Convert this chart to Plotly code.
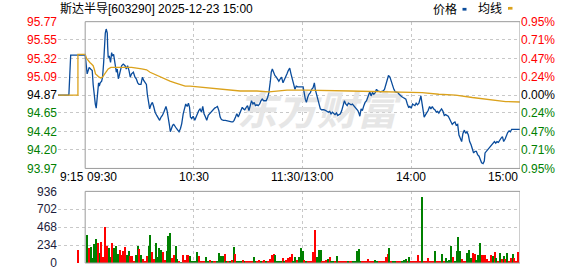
import plotly.graph_objects as go

# ---------------- data ----------------
title_text = "斯达半导[603290] 2025-12-23 15:00"
prev_close = 94.87
price_ticks = [93.97, 94.20, 94.42, 94.65, 94.87, 95.09, 95.32, 95.55, 95.77]
price_tick_text = ["93.97", "94.20", "94.42", "94.65", "94.87", "95.09", "95.32", "95.55", "95.77"]
pct_labels = ["0.95%", "0.71%", "0.47%", "0.24%", "0.00%", "0.24%", "0.47%", "0.71%", "0.95%"]
vol_ticks = [0, 234, 468, 702, 936]
time_label_pos = [-15, 0, 60, 120, 180, 240]
time_labels = ["9:15", "09:30", "10:30", "11:30/13:00", "14:00", "15:00"]
legend_names = ["价格", "均线"]
watermark = "东方财富"

# minutes from 09:30 (pre-market negative, afternoon continues after 120)
price_t = [-15, -9, -8, 0, 1.1, 2.2, 3.0, 3.9, 4.4, 5.0, 5.6, 6.1, 6.5, 6.8, 7.4, 7.8, 8.3, 9.1, 9.6,
           10.2, 10.5, 11.1, 11.6, 12.2, 12.4, 12.7, 13.3, 14.0, 14.6, 15.1, 15.7, 16.2, 16.6, 17.2,
           17.7, 18.3, 18.8, 19.4, 20.1, 21.0, 22.0, 22.7, 23.4, 24.2, 24.9, 25.6, 26.6, 27.5, 28.2,
           29.0, 29.7, 30.8, 31.6, 32.3, 33.0, 33.8, 34.3, 34.9, 35.6, 36.3, 37.1, 37.8, 38.6, 39.5,
           40.4, 41.1, 41.9, 42.6, 43.4, 44.1, 44.6, 45.2, 45.9, 46.5, 47.0, 47.8, 48.3, 48.9, 49.6,
           50.4, 51.1, 51.8, 52.6, 53.3, 54.1, 54.8, 55.5, 56.3, 57.0, 57.6, 58.1, 58.8, 59.6, 60.5,
           61.2, 62.0, 62.7, 63.4, 64.2, 64.9, 65.6, 66.4, 67.1, 67.9, 68.6, 69.3, 70.1, 70.8, 71.5,
           72.3, 73.0, 73.8, 74.5, 75.2, 76.3, 77.4, 78.6, 79.7, 80.8, 81.5, 82.2, 83.0, 83.7, 84.5,
           85.2, 85.9, 86.7, 87.4, 88.1, 88.9, 89.6, 90.4, 91.1, 91.8, 92.6, 93.3, 94.0, 94.8, 95.5,
           96.3, 97.0, 97.7, 98.5, 99.2, 99.9, 100.7, 101.4, 102.2, 102.7, 103.3, 104.0, 104.7, 105.5,
           106.2, 106.9, 107.7, 108.4, 109.2, 109.9, 110.6, 111.4, 112.1, 112.9, 113.6, 114.3, 115.1,
           115.8, 116.5, 117.3, 120.3, 121.5, 122.1, 122.8, 123.5, 124.3, 125.0, 125.8, 126.5, 127.0,
           127.6, 128.3, 129.1, 129.8, 130.5, 131.7, 132.8, 133.5, 134.2, 135.0, 135.7, 136.5, 137.2,
           137.9, 138.7, 139.4, 140.1, 140.9, 141.6, 142.4, 143.1, 143.8, 144.6, 145.3, 146.0, 146.8,
           147.5, 148.3, 149.0, 149.7, 150.5, 151.2, 151.6, 152.3, 153.0, 153.8, 154.5, 155.3, 156.0,
           156.7, 157.1, 157.8, 158.6, 159.3, 160.1, 160.8, 161.5, 163.0, 164.5, 165.2, 166.0, 166.7,
           167.4, 168.2, 168.9, 169.6, 170.4, 171.1, 171.9, 172.6, 173.3, 174.1, 174.8, 175.5, 176.3,
           177.0, 177.8, 178.5, 179.2, 180.0, 180.7, 181.4, 182.0, 182.7, 183.4, 184.2, 184.9, 185.3,
           186.0, 186.6, 187.1, 187.9, 188.6, 189.3, 190.1, 190.8, 191.6, 192.3, 193.0, 193.8, 194.5,
           195.2, 196.0, 196.7, 197.5, 198.2, 198.9, 199.7, 200.4, 201.1, 201.9, 202.6, 203.4, 204.1,
           204.8, 205.6, 206.3, 207.0, 207.8, 208.5, 209.3, 210.0, 210.7, 211.5, 212.2, 213.0, 213.7,
           214.4, 215.2, 215.9, 216.6, 217.4, 218.1, 218.8, 219.6, 220.3, 220.7, 221.4, 222.2, 222.9,
           223.6, 224.4, 225.1, 225.9, 226.6, 227.3, 228.1, 228.8, 229.5, 230.3, 231.0, 231.8, 232.5,
           233.2, 234.0, 234.7, 235.4, 237.7, 240]
price_v = [94.87, 94.87, 95.36, 95.36, 95.13, 95.21, 95.19, 95.17, 95.00, 94.84, 94.76, 94.71, 94.84,
           94.96, 95.02, 94.98, 95.02, 95.04, 95.09, 95.27, 95.43, 95.63, 95.68, 95.63, 95.47, 95.33,
           95.35, 95.27, 95.39, 95.35, 95.37, 95.31, 95.23, 95.15, 95.19, 95.07, 95.11, 95.19, 95.23,
           95.25, 95.23, 95.19, 95.23, 95.17, 95.09, 95.13, 95.15, 95.09, 95.07, 95.02, 95.00, 95.00,
           95.09, 95.05, 95.02, 95.00, 94.88, 94.76, 94.70, 94.75, 94.78, 94.73, 94.66, 94.62, 94.58,
           94.56, 94.60, 94.62, 94.66, 94.72, 94.73, 94.68, 94.60, 94.50, 94.42, 94.48, 94.50, 94.51,
           94.48, 94.46, 94.44, 94.42, 94.46, 94.52, 94.64, 94.72, 94.76, 94.73, 94.77, 94.72, 94.60,
           94.58, 94.61, 94.56, 94.60, 94.64, 94.68, 94.70, 94.66, 94.73, 94.64, 94.60, 94.56, 94.62,
           94.64, 94.66, 94.68, 94.70, 94.71, 94.72, 94.73, 94.68, 94.60, 94.57, 94.56, 94.56, 94.55,
           94.55, 94.54, 94.54, 94.56, 94.60, 94.64, 94.60, 94.64, 94.66, 94.72, 94.70, 94.69, 94.72,
           94.74, 94.68, 94.76, 94.80, 94.76, 94.78, 94.74, 94.75, 94.74, 94.76, 94.80, 94.82, 94.80,
           94.80, 94.80, 94.84, 94.90, 95.04, 95.15, 95.19, 95.15, 95.11, 95.09, 95.07, 95.04, 95.07,
           95.09, 95.02, 95.05, 95.09, 95.13, 95.17, 95.20, 95.13, 95.05, 95.00, 94.94, 94.98, 94.97,
           94.97, 94.82, 94.78, 94.84, 94.88, 94.90, 94.94, 94.96, 95.02, 94.94, 94.88, 94.82, 94.74,
           94.70, 94.69, 94.69, 94.68, 94.67, 94.66, 94.67, 94.64, 94.66, 94.64, 94.63, 94.65, 94.62,
           94.63, 94.64, 94.68, 94.74, 94.80, 94.76, 94.74, 94.77, 94.76, 94.75, 94.76, 94.74, 94.72,
           94.70, 94.68, 94.64, 94.61, 94.70, 94.68, 94.74, 94.78, 94.80, 94.84, 94.88, 94.91, 94.86,
           94.90, 94.88, 94.90, 94.94, 94.92, 94.91, 94.92, 94.94, 95.00, 95.05, 95.11, 95.09, 95.04,
           94.98, 94.94, 94.91, 94.90, 94.90, 94.88, 94.86, 94.85, 94.84, 94.83, 94.82, 94.76, 94.72,
           94.73, 94.71, 94.76, 94.75, 94.74, 94.77, 94.75, 94.77, 94.82, 94.86, 94.76, 94.64, 94.60,
           94.63, 94.65, 94.68, 94.73, 94.70, 94.73, 94.70, 94.69, 94.66, 94.67, 94.65, 94.68, 94.70,
           94.67, 94.62, 94.63, 94.62, 94.61, 94.58, 94.54, 94.51, 94.53, 94.54, 94.50, 94.51, 94.38,
           94.34, 94.30, 94.40, 94.44, 94.40, 94.42, 94.38, 94.30, 94.26, 94.20, 94.16, 94.18, 94.18,
           94.14, 94.12, 94.08, 94.04, 94.03, 94.06, 94.16, 94.18, 94.20, 94.21, 94.24, 94.26, 94.28,
           94.30, 94.28, 94.30, 94.29, 94.32, 94.34, 94.36, 94.30, 94.33, 94.38, 94.41, 94.43, 94.42,
           94.45, 94.45, 94.45]

avg_t = [-15, -4, -4, 0, 0.8, 1.7, 2.6, 3.5, 4.4, 5.0, 5.7, 6.7, 7.6, 8.7, 9.6, 10.5, 11.5, 12.7, 14.2,
         20.0, 25.6, 31.2, 33.9, 35.8, 38.6, 41.3, 44.1, 46.8, 49.6, 52.4, 55.2, 57.9, 67.1, 76.3,
         85.6, 94.8, 101.4, 111.4, 121.5, 146.4, 182.4, 186.0, 195.2, 204.5, 213.7, 221.1, 226.6,
         232.1, 240]
avg_v = [94.87, 94.87, 95.37, 95.37, 95.32, 95.29, 95.27, 95.25, 95.23, 95.19, 95.13, 95.11, 95.09,
         95.08, 95.09, 95.12, 95.16, 95.19, 95.21, 95.21, 95.21, 95.19, 95.18, 95.15, 95.12, 95.09,
         95.06, 95.04, 95.02, 95.00, 94.98, 94.98, 94.96, 94.94, 94.92, 94.92, 94.91, 94.93, 94.93,
         94.92, 94.90, 94.90, 94.88, 94.87, 94.84, 94.82, 94.80, 94.79, 94.785]

vol_t = [-4] + list(range(1, 241))
vol_v = [164,
         367, 190, 202, 63, 240, 304, 253, 126, 266, 76, 472, 215, 190, 76, 253, 190, 215, 114, 164, 101,
         148, 202, 101, 152, 89, 89, 25, 105, 215, 177, 101, 51, 13, 89, 215, 367, 139, 51, 253, 76,
         190, 164, 139, 38, 152, 354, 392, 63, 101, 219, 51, 17, 8, 101, 38, 101, 101, 89, 13, 13,
         13, 139, 89, 17, 25, 25, 76, 17, 38, 17, 25, 17, 17, 131, 89, 89, 114, 17, 25, 17,
         38, 202, 114, 17, 17, 17, 38, 17, 25, 17, 17, 17, 76, 17, 17, 38, 17, 25, 38, 17,
         17, 51, 101, 114, 101, 17, 17, 25, 63, 17, 38, 63, 76, 114, 13, 76, 38, 76, 190, 152,
         38, 13, 13, 13, 13, 139, 430, 76, 164, 164, 13, 13, 38, 51, 76, 13, 13, 13, 89, 13,
         13, 25, 13, 13, 13, 13, 13, 13, 25, 152, 177, 13, 13, 13, 13, 51, 13, 13, 13, 38,
         13, 13, 13, 13, 25, 76, 114, 190, 13, 25, 13, 13, 13, 13, 25, 38, 51, 13, 76, 13,
         13, 13, 13, 101, 13, 860, 13, 13, 63, 13, 13, 13, 152, 13, 13, 13, 114, 13, 63, 25,
         38, 215, 76, 13, 152, 341, 152, 51, 13, 25, 127, 164, 63, 127, 114, 38, 101, 253, 101, 101,
         101, 51, 25, 101, 89, 139, 63, 13, 127, 51, 89, 51, 127, 25, 63, 114, 63, 13, 139]
vol_dir = ["u",
           "d", "u", "d", "d", "d", "d", "u", "d", "u", "u", "u", "u", "d", "d", "u", "d", "d", "d", "u", "u",
           "u", "u", "d", "d", "u", "u", "u", "d", "d", "u", "d", "u", "u", "u", "d", "d", "u", "u", "d", "d",
           "d", "d", "u", "u", "d", "d", "d", "u", "u", "d", "d", "u", "d", "u", "u", "u", "u", "d", "d", "d",
           "d", "d", "u", "u", "u", "u", "d", "d", "u", "d", "u", "u", "d", "d", "d", "d", "u", "d", "u", "d",
           "u", "d", "u", "d", "d", "d", "u", "d", "u", "u", "u", "u", "d", "d", "u", "u", "d", "u", "u", "d",
           "u", "u", "u", "u", "d", "d", "d", "d", "u", "d", "u", "u", "u", "u", "d", "d", "u", "d", "d", "d",
           "u", "d", "u", "u", "u", "u", "u", "d", "d", "d", "u", "u", "u", "d", "u", "d", "d", "u", "d", "u",
           "u", "u", "u", "u", "d", "u", "u", "d", "d", "d", "d", "d", "u", "u", "u", "u", "u", "u", "u", "d",
           "d", "u", "u", "u", "u", "u", "u", "d", "u", "d", "d", "u", "u", "u", "d", "d", "d", "u", "d", "u",
           "u", "u", "u", "u", "u", "d", "u", "u", "u", "u", "u", "u", "d", "u", "u", "u", "d", "u", "d", "d",
           "d", "d", "u", "d", "d", "d", "d", "u", "u", "u", "d", "d", "d", "u", "u", "d", "d", "d", "u", "u",
           "u", "u", "u", "u", "d", "u", "d", "u", "d", "u", "d", "u", "d", "u", "u", "d", "u", "u", "u"]

# ---------------- styling ----------------
W, H = 578, 276
ML, MR, MT, MB = 58, 58, 21, 6
PW, PH = W - ML - MR, H - MT - MB
RED, GREEN, BLACK = "#ff0000", "#008000", "#000000"
BLUE, ORANGE = "#0a4c9c", "#dba21c"
GRID = "#c8c8c8"
FRAME = "#9a9a9a"
FONT = "Liberation Sans, Arial, Noto Sans CJK SC"


def py(px):  # pixel row -> paper y
    return (H - MB - px) / PH


def pxx(px):  # pixel column -> paper x
    return (px - ML) / PW


def lvl_color(v):
    if abs(v - prev_close) < 1e-6:
        return BLACK
    return RED if v > prev_close else GREEN


left_text = [f'<span style="color:{lvl_color(v)}">{t}</span>' for v, t in zip(price_ticks, price_tick_text)]
right_text = [f'<span style="color:{lvl_color(v)}">{t}</span>' for v, t in zip(price_ticks, pct_labels)]
bar_colors = [RED if d == "u" else GREEN for d in vol_dir]

price_dom = [py(172.7), min(1.0, py(21.7))]
vol_dom = [0, py(196.3)]

fig = go.Figure()
fig.add_trace(go.Scatter(x=[128], y=[94.63], mode="text", text=[watermark],
                         textfont=dict(size=40, color="#e6e6e6", family="Noto Sans CJK SC", weight="bold",
                                       style="italic"),
                         hoverinfo="skip", showlegend=False))
fig.add_trace(go.Scatter(x=price_t, y=price_v, mode="lines", line=dict(color=BLUE, width=1.3),
                         showlegend=False, hoverinfo="skip"))
fig.add_trace(go.Scatter(x=avg_t, y=avg_v, mode="lines", line=dict(color=ORANGE, width=1.3),
                         showlegend=False, hoverinfo="skip"))
fig.add_trace(go.Scatter(x=[None], y=[None], yaxis="y2", showlegend=False, hoverinfo="skip"))
fig.add_trace(go.Bar(x=vol_t, y=vol_v, marker=dict(color=bar_colors, line=dict(width=0)), width=0.65,
                     xaxis="x2", yaxis="y3", showlegend=False, hoverinfo="skip"))

xcommon = dict(range=[-15, 240], tickvals=[-15, 60, 120, 180], showticklabels=False, showgrid=True,
               gridcolor=GRID, griddash="3px,3px", gridwidth=1, zeroline=False, showline=False, ticks="")
fig.update_layout(
    width=W, height=H, margin=dict(l=ML, r=MR, t=MT, b=MB),
    paper_bgcolor="white", plot_bgcolor="white", bargap=0,
    font=dict(family=FONT, size=12, color=BLACK),
    xaxis=dict(anchor="y", **xcommon),
    xaxis2=dict(anchor="y3", matches="x", **xcommon),
    yaxis=dict(domain=price_dom, range=[93.97, 95.77], tickvals=price_ticks, ticktext=left_text,
               showgrid=True, gridcolor=GRID, griddash="3px,3px", zeroline=False, showline=False,
               ticks="", tickfont=dict(size=12)),
    yaxis2=dict(overlaying="y", side="right", range=[93.97, 95.77], tickvals=price_ticks,
                ticktext=right_text, showgrid=False, zeroline=False, showline=False, ticks="",
                tickfont=dict(size=12)),
    yaxis3=dict(domain=vol_dom, range=[0, 936], tickvals=vol_ticks, ticktext=[str(v) for v in vol_ticks],
                showgrid=True, gridcolor=GRID, griddash="3px,3px", zeroline=False, showline=False,
                ticks="", tickfont=dict(size=12, color="#1c1c3c")),
)

fig.add_shape(type="rect", xref="x", yref="y domain", x0=0, x1=240, y0=0, y1=1,
              line=dict(color=FRAME, width=1), layer="above")
fig.add_shape(type="rect", xref="x2", yref="y3 domain", x0=0, x1=240, y0=0, y1=1,
              line=dict(color=FRAME, width=1), layer="above")

# time labels
anchors = ["left", "left", "center", "center", "center", "right"]
for pos, lab, anc in zip(time_label_pos, time_labels, anchors):
    fig.add_annotation(x=pos, xref="x", y=py(181.5), yref="paper", text=lab, showarrow=False,
                       xanchor=anc, yanchor="middle", font=dict(size=12, color=BLACK))

# title
fig.add_annotation(x=0, xref="paper", y=py(8.5), yref="paper", text=title_text, showarrow=False,
                   xanchor="left", yanchor="middle", font=dict(size=12, color=BLACK))
# legend
fig.add_annotation(x=pxx(430.5), xref="paper", y=py(9), yref="paper", text=legend_names[0], showarrow=False,
                   xanchor="left", yanchor="middle", font=dict(size=12, color=BLACK))
fig.add_annotation(x=pxx(475.5), xref="paper", y=py(9), yref="paper", text=legend_names[1], showarrow=False,
                   xanchor="left", yanchor="middle", font=dict(size=12, color=BLACK))
fig.add_shape(type="rect", xref="paper", yref="paper", x0=pxx(462.5), x1=pxx(466.5), y0=py(10.3), y1=py(7.5),
              fillcolor=BLUE, line=dict(width=0))
fig.add_shape(type="rect", xref="paper", yref="paper", x0=pxx(508), x1=pxx(512.5), y0=py(9.3), y1=py(6.5),
              fillcolor=ORANGE, line=dict(width=0))

fig.write_html("out.html")
